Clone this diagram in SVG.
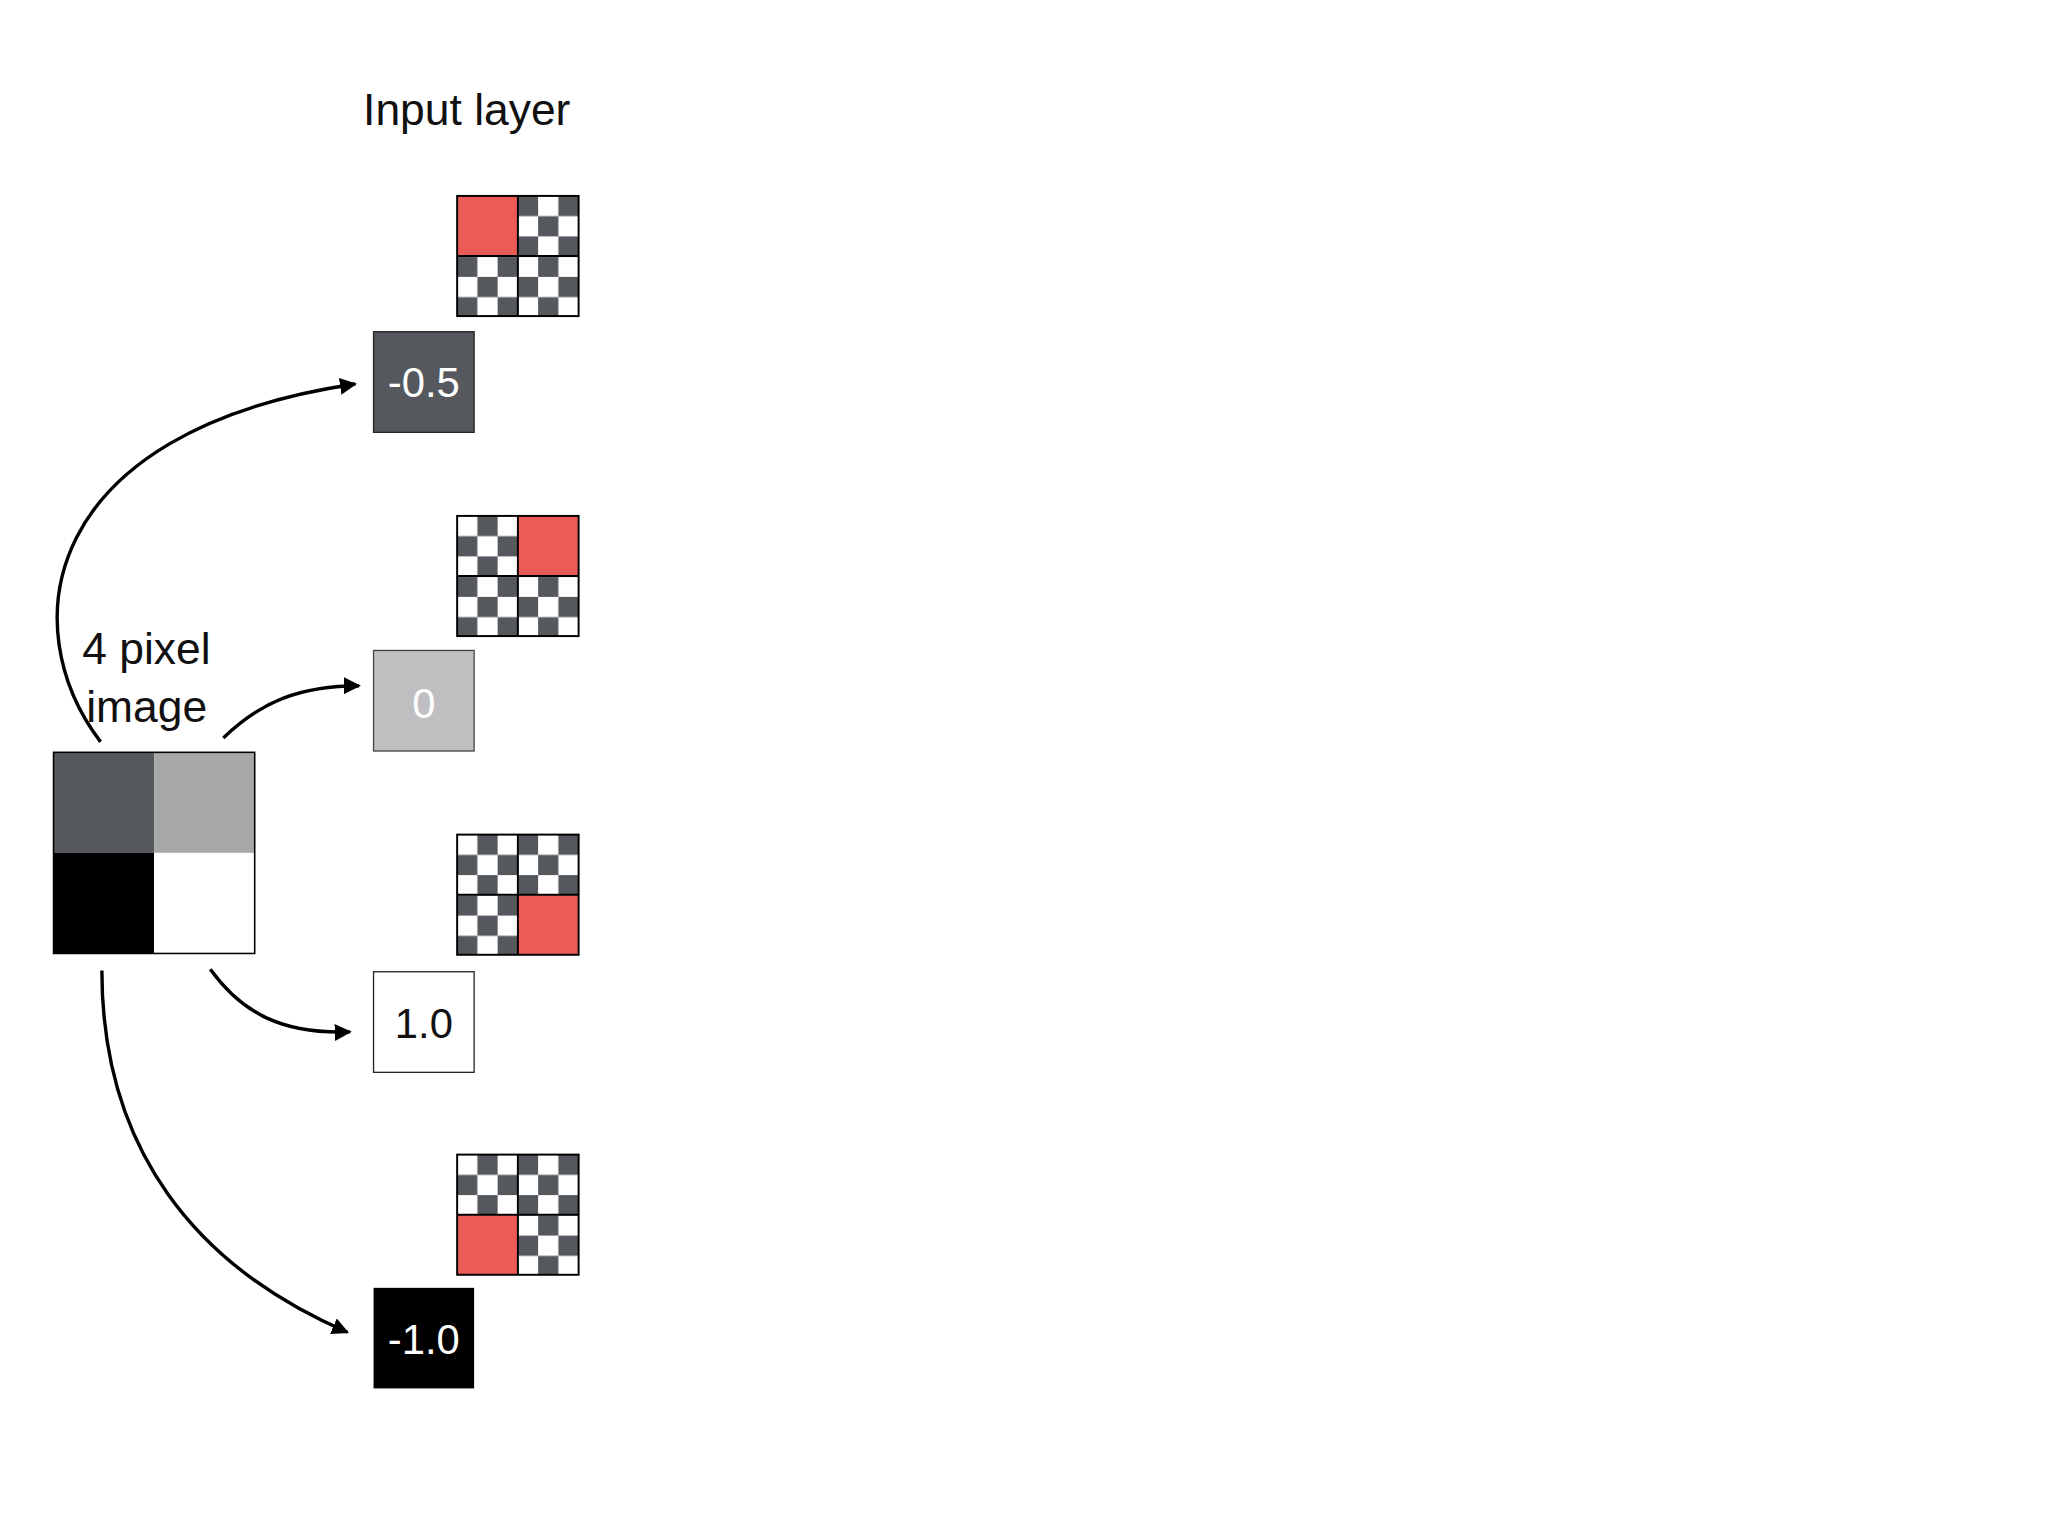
<svg xmlns="http://www.w3.org/2000/svg" width="2048" height="1536" viewBox="0 0 2048 1536">
<style>
.t{font-family:"Liberation Sans",Arial,sans-serif;font-size:34px;fill:#111}
.v{font-family:"Liberation Sans",Arial,sans-serif;font-size:32px;text-anchor:middle}
.c{fill:none;stroke:#000;stroke-width:2.6;marker-end:url(#ah)}
.grid{stroke:#000;stroke-width:1.5}
</style>
<defs>
<pattern id="chk" patternUnits="userSpaceOnUse" width="31" height="31">
<rect width="31" height="31" fill="#fff"/>
<rect x="15.5" width="15.5" height="15.5" fill="#55595d"/>
<rect y="15.5" width="15.5" height="15.5" fill="#55595d"/>
</pattern>
<marker id="ah" viewBox="0 0 10 10" refX="9" refY="5" markerWidth="5" markerHeight="5" orient="auto" markerUnits="strokeWidth">
<path d="M0,0 L10,5 L0,10 z" fill="#000"/>
</marker>
</defs>
<rect width="2048" height="1536" fill="#fff"/>
<g transform="scale(1.30612)">
<text class="t" x="278" y="96">Input layer</text>
<g id="image">
<rect x="41" y="576" width="77" height="77" fill="#55595d"/>
<rect x="118" y="576" width="77" height="77" fill="#a7a8a8"/>
<rect x="41" y="653" width="77" height="77" fill="#000"/>
<rect x="118" y="653" width="77" height="77" fill="#fff"/>
<rect x="41" y="576" width="154" height="154" fill="none" stroke="#000" stroke-width="1.2"/>
<text class="t" x="63" y="508">4 pixel</text>
<text class="t" x="66" y="553">image</text>
</g>
<g id="chk1" transform="translate(350,150)">
<rect width="93" height="92" fill="url(#chk)"/><rect width="46.5" height="46" fill="#ec5c57"/>
<rect width="93" height="92" fill="none" class="grid"/><path class="grid" d="M46.5,0V92M0,46H93"/>
</g>
<g id="chk2" transform="translate(350,395)">
<rect width="93" height="92" fill="url(#chk)"/><rect x="46.5" width="46.5" height="46" fill="#ec5c57"/>
<rect width="93" height="92" fill="none" class="grid"/><path class="grid" d="M46.5,0V92M0,46H93"/>
</g>
<g id="chk3" transform="translate(350,639)">
<rect width="93" height="92" fill="url(#chk)"/><rect x="46.5" y="46" width="46.5" height="46" fill="#ec5c57"/>
<rect width="93" height="92" fill="none" class="grid"/><path class="grid" d="M46.5,0V92M0,46H93"/>
</g>
<g id="chk4" transform="translate(350,884)">
<rect width="93" height="92" fill="url(#chk)"/><rect y="46" width="46.5" height="46" fill="#ec5c57"/>
<rect width="93" height="92" fill="none" class="grid"/><path class="grid" d="M46.5,0V92M0,46H93"/>
</g>
<g id="v1"><rect x="286" y="254" width="77" height="77" fill="#55595d" stroke="#222" stroke-width="1"/><text class="v" x="324.5" y="304" fill="#fff">-0.5</text></g>
<g id="v2"><rect x="286" y="498" width="77" height="77" fill="#bfbfc1" stroke="#444" stroke-width="1"/><text class="v" x="324.5" y="550" fill="#fff">0</text></g>
<g id="v3"><rect x="286" y="744" width="77" height="77" fill="#fff" stroke="#222" stroke-width="1"/><text class="v" x="324.5" y="795" fill="#111">1.0</text></g>
<g id="v4"><rect x="286" y="986" width="77" height="77" fill="#000"/><text class="v" x="324.5" y="1037" fill="#fff">-1.0</text></g>
<g id="connectors">
<path class="c" d="M77,568 C10,480 30,330 272,294"/>
<path class="c" d="M171,565 C200,537 230,525 275,525"/>
<path class="c" d="M161,742 C185,775 215,792 268,790"/>
<path class="c" d="M78,743 C78,880 150,970 266,1020"/>
</g>
</g>
</svg>
